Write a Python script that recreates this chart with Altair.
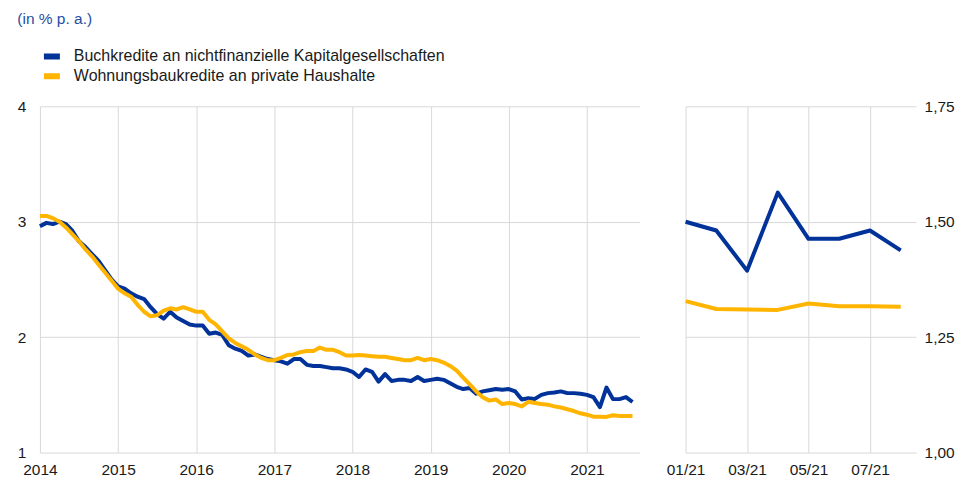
import altair as alt
import pandas as pd

series_names = [
    "Buchkredite an nichtfinanzielle Kapitalgesellschaften",
    "Wohnungsbaukredite an private Haushalte",
]
series_colors = ["#003299", "#FFB400"]

start_year = 2014
# monthly values Jan 2014 - Aug 2021
nfc = [2.96, 2.99, 2.98, 3.00, 2.98, 2.92, 2.83, 2.78, 2.72, 2.66, 2.58, 2.50,
       2.44, 2.42, 2.38, 2.35, 2.33, 2.26, 2.20, 2.16, 2.22, 2.17, 2.14, 2.11,
       2.10, 2.10, 2.03, 2.04, 2.02, 1.93, 1.90, 1.88, 1.84, 1.85, 1.83, 1.81,
       1.80, 1.79, 1.77, 1.81, 1.81, 1.76, 1.75, 1.75, 1.74, 1.73, 1.73, 1.72,
       1.70, 1.655, 1.72, 1.70, 1.615, 1.68, 1.62, 1.63, 1.63, 1.62, 1.655, 1.62,
       1.63, 1.64, 1.63, 1.60, 1.57, 1.55, 1.56, 1.51, 1.53, 1.54, 1.55, 1.545,
       1.55, 1.53, 1.46, 1.47, 1.465, 1.50, 1.515, 1.52, 1.53, 1.515, 1.515, 1.51,
       1.50, 1.48, 1.394, 1.563, 1.463, 1.463, 1.481, 1.438]
hh = [3.05, 3.05, 3.03, 3.00, 2.95, 2.89, 2.83, 2.76, 2.70, 2.63, 2.56, 2.49,
      2.42, 2.38, 2.35, 2.28, 2.22, 2.18, 2.19, 2.23, 2.25, 2.24, 2.26, 2.24,
      2.22, 2.22, 2.15, 2.11, 2.05, 1.99, 1.95, 1.92, 1.89, 1.85, 1.82, 1.80,
      1.80, 1.82, 1.845, 1.85, 1.87, 1.88, 1.88, 1.91, 1.89, 1.89, 1.87, 1.84,
      1.84, 1.845, 1.84, 1.835, 1.83, 1.83, 1.82, 1.81, 1.80, 1.80, 1.82, 1.80,
      1.81, 1.80, 1.78, 1.75, 1.71, 1.65, 1.59, 1.53, 1.48, 1.45, 1.46, 1.42,
      1.43, 1.42, 1.40, 1.44, 1.43, 1.42, 1.415, 1.40, 1.39, 1.375, 1.36, 1.34,
      1.328, 1.311, 1.310, 1.309, 1.323, 1.317, 1.317, 1.316]

recent_labels = ["01/21", "02/21", "03/21", "04/21", "05/21", "06/21", "07/21", "08/21"]
recent_nfc = [1.50, 1.481, 1.394, 1.563, 1.463, 1.463, 1.481, 1.438]
recent_hh = [1.328, 1.311, 1.310, 1.309, 1.323, 1.317, 1.317, 1.316]

rows = []
for i, v in enumerate(nfc):
    rows.append({"m": i, "v": v, "series": series_names[0]})
for i, v in enumerate(hh):
    rows.append({"m": i, "v": v, "series": series_names[1]})
long_df = pd.DataFrame(rows)

rows = []
for i, v in enumerate(recent_nfc):
    rows.append({"m": i, "v": v, "series": series_names[0], "lab": recent_labels[i]})
for i, v in enumerate(recent_hh):
    rows.append({"m": i, "v": v, "series": series_names[1], "lab": recent_labels[i]})
recent_df = pd.DataFrame(rows)

FONT = "Liberation Sans"
GRID = "#d9d9d9"
LABEL = "#1a1a1a"

color = alt.Color(
    "series:N",
    scale=alt.Scale(domain=series_names, range=series_colors),
    legend=alt.Legend(
        title=None, orient="none", legendX=1, legendY=-58,
        symbolType="stroke", symbolSize=256, symbolStrokeWidth=6,
        labelFont=FONT, labelFontSize=16, labelColor=LABEL, labelLimit=0,
        rowPadding=4, clipHeight=16, labelOffset=11,
    ),
)

left = alt.Chart(long_df).mark_line(strokeWidth=4, strokeJoin="round").encode(
    x=alt.X("m:Q",
            scale=alt.Scale(domain=[0, 92.1], nice=False, zero=False),
            axis=alt.Axis(values=list(range(0, 91, 12)),
                          labelExpr="'' + (2014 + datum.value / 12)",
                          title=None, grid=True, ticks=False, domain=False,
                          labelFlush=False, labelPadding=10)),
    y=alt.Y("v:Q",
            scale=alt.Scale(domain=[1, 4], nice=False, zero=False),
            axis=alt.Axis(values=[1, 2, 3, 4], format="d", title=None,
                          ticks=False, domain=False, labelPadding=14)),
    color=color,
).properties(width=601, height=347)

right = alt.Chart(recent_df).mark_line(strokeWidth=4, strokeJoin="round").encode(
    x=alt.X("m:Q",
            scale=alt.Scale(domain=[0, 7.5], nice=False, zero=False),
            axis=alt.Axis(values=[0, 2, 4, 6],
                          labelExpr="'0' + (datum.value + 1) + '/21'",
                          title=None, grid=True, ticks=False, domain=False,
                          labelFlush=False, labelPadding=10)),
    y=alt.Y("v:Q",
            scale=alt.Scale(domain=[1, 1.75], nice=False, zero=False),
            axis=alt.Axis(values=[1, 1.25, 1.5, 1.75], orient="right",
                          labelExpr="replace(format(datum.value, '.2f'), '.', ',')",
                          title=None, ticks=False, domain=False, labelPadding=8)),
    color=alt.Color("series:N",
                    scale=alt.Scale(domain=series_names, range=series_colors),
                    legend=None),
).properties(width=231, height=347)

chart = alt.hconcat(left, right, spacing=26).properties(
    title=alt.TitleParams("(in % p. a.)", anchor="start", font=FONT,
                          fontSize=15.5, fontWeight="normal", color="#1f4ea3",
                          offset=21),
    padding={"left": 9, "top": 3, "right": 0, "bottom": 5},
).configure_view(strokeWidth=0).configure_axis(
    gridColor=GRID, gridWidth=1, labelFont=FONT, labelFontSize=15.5,
    labelColor=LABEL,
)

chart.save("out.html", embed_options={"renderer": "svg", "actions": False})
